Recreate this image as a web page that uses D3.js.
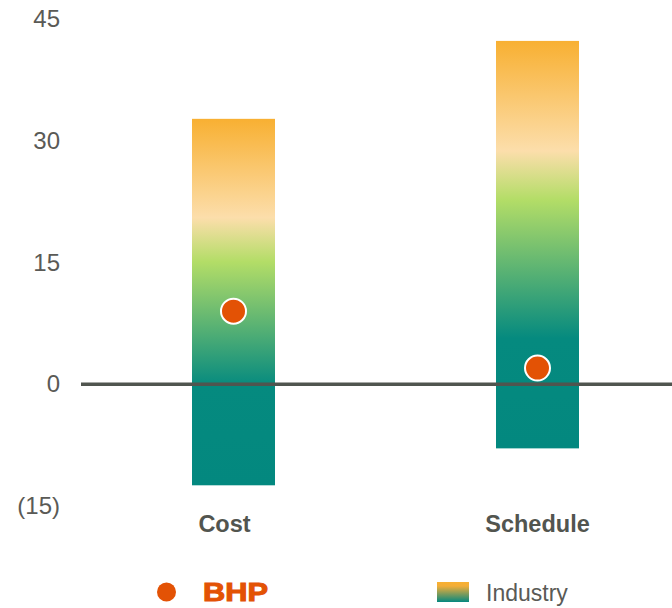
<!DOCTYPE html>
<html>
<head>
<meta charset="utf-8">
<script src="https://cdn.jsdelivr.net/npm/d3@7"></script>
<style>
  html, body { margin: 0; padding: 0; background: #fff; }
  svg { display: block; font-family: "Liberation Sans", Arial, sans-serif; }
</style>
</head>
<body>
<svg id="chart" width="672" height="608"></svg>
<script>
// ---- data ----
const categories = ["Cost", "Schedule"];
const industryHigh = [32.7, 42.3];
const industryLow = [-12.45, -7.9];
const bhpValues = [9, 2];
const yTicks = [-15, 0, 15, 30, 45];
const yTickLabels = ["(15)", "0", "15", "30", "45"];
const legendLabels = ["BHP", "Industry"];

// ---- chart ----
const svg = d3.select("#chart");
const W = 672, H = 608;

const y = d3.scaleLinear().domain([-15, 45]).range([506, 19]);
const x = d3.scaleBand().domain(categories).range([81.5, 689.5])
  .paddingInner(0.727).paddingOuter(0.3635);

const defs = svg.append("defs");
const g1 = defs.append("linearGradient").attr("id", "ind")
  .attr("x1", 0).attr("y1", 0).attr("x2", 0).attr("y2", 1);
[[0, "#F8B032"], [0.27, "#FCDEAB"], [0.39, "#B3DD67"], [0.73, "#058A7F"], [1, "#03887F"]]
  .forEach(([o, c]) => g1.append("stop").attr("offset", o).attr("stop-color", c));
const g2 = defs.append("linearGradient").attr("id", "leg")
  .attr("x1", 0).attr("y1", 0).attr("x2", 0).attr("y2", 1);
[[0, "#F8B032"], [0.2, "#F3AE38"], [1, "#05887F"]]
  .forEach(([o, c]) => g2.append("stop").attr("offset", o).attr("stop-color", c));

// y axis labels
const yAxis = d3.axisLeft(y).tickValues(yTicks)
  .tickFormat((d, i) => yTickLabels[i]).tickSize(0).tickPadding(0);
const ya = svg.append("g").attr("transform", "translate(60,0)").call(yAxis);
ya.select(".domain").remove();
ya.selectAll("text").attr("font-size", 24).attr("fill", "#5a5a56")
  .attr("font-family", "Liberation Sans, Arial, sans-serif");

// bars
svg.append("g").selectAll("rect").data(categories).join("rect")
  .attr("x", d => x(d))
  .attr("width", x.bandwidth())
  .attr("y", (d, i) => y(industryHigh[i]))
  .attr("height", (d, i) => y(industryLow[i]) - y(industryHigh[i]))
  .attr("fill", "url(#ind)");

// zero line
svg.append("line")
  .attr("x1", 81).attr("x2", W)
  .attr("y1", y(0)).attr("y2", y(0))
  .attr("stroke", "#50554f").attr("stroke-width", 3.5);

// BHP dots
svg.append("g").selectAll("circle").data(categories).join("circle")
  .attr("cx", d => x(d) + x.bandwidth() / 2)
  .attr("cy", (d, i) => y(bhpValues[i]))
  .attr("r", 12.5)
  .attr("fill", "#E35205")
  .attr("stroke", "#fff").attr("stroke-width", 2);

// category labels
const xAxis = d3.axisBottom(x).tickSize(0).tickPadding(0);
const xa = svg.append("g").attr("transform", "translate(0,532)").call(xAxis);
xa.select(".domain").remove();
xa.selectAll("text")
  .attr("dy", 0)
  .attr("dx", (d, i) => i === 0 ? -9 : 0)
  .attr("font-size", 23.5).attr("font-weight", "bold")
  .attr("fill", "#52554f")
  .attr("font-family", "Liberation Sans, Arial, sans-serif");

// legend
const leg = svg.append("g");
leg.append("circle").attr("cx", 166.5).attr("cy", 592).attr("r", 9.5).attr("fill", "#E35205");
leg.append("text").attr("x", 203).attr("y", 601)
  .attr("font-size", 25).attr("font-weight", "bold").attr("fill", "#E35205")
  .attr("stroke", "#E35205").attr("stroke-width", 1)
  .attr("textLength", 65).attr("lengthAdjust", "spacingAndGlyphs")
  .text(legendLabels[0]);
leg.append("rect").attr("x", 437).attr("y", 582).attr("width", 32).attr("height", 20)
  .attr("fill", "url(#leg)");
leg.append("text").attr("x", 486).attr("y", 601)
  .attr("font-size", 23).attr("fill", "#5a5a56")
  .text(legendLabels[1]);
</script>
</body>
</html>
